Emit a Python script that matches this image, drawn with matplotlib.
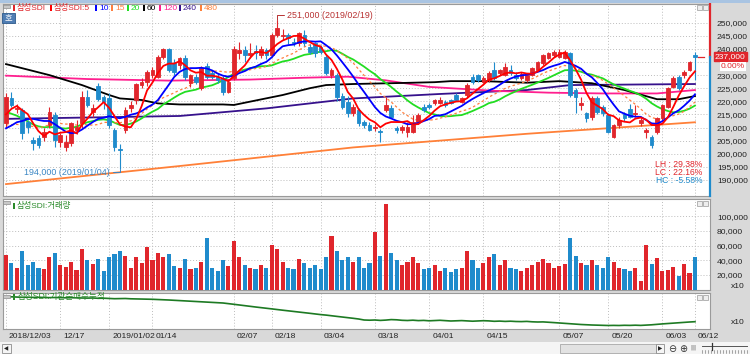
import numpy as np
import pandas as pd
import matplotlib
matplotlib.use("Agg")
import matplotlib.pyplot as plt
from matplotlib import font_manager
from matplotlib.patches import Rectangle
from matplotlib.transforms import blended_transform_factory, offset_copy

W, H = 750, 354

# x axis: one slot per trading day, 2018/12/03 .. 2019/06/12
tick_idx = [0, 10, 19, 27, 42, 49, 58, 68, 78, 88, 102, 111, 121, 127]
tick_lab = ['2018/12/03', '12/17', '2019/01/02', '01/14', '02/07', '02/18', '03/04',
            '03/18', '04/01', '04/15', '05/07', '05/20', '06/03', '06/12']

# daily candles, in 1,000 won
open_k = [
    211.6, 221.1, 217.0, 216.7, 212.2, 205.2, 205.9, 206.5, 211.0, 214.8,
    204.6, 202.7, 204.0, 209.0, 211.6, 221.8, 216.0, 225.8, 221.5, 221.1,
    209.0, 201.8, 209.0, 217.5, 220.5, 226.2, 227.5, 230.0, 229.4, 237.0,
    239.8, 234.5, 233.9, 236.4, 226.9, 229.4, 225.0, 233.5, 230.7, 229.4,
    228.8, 223.7, 228.8, 238.3, 239.6, 237.7, 239.2, 237.7, 239.6, 237.7,
    245.3, 245.0, 245.3, 242.8, 242.1, 245.3, 240.9, 242.1, 240.9, 237.0,
    230.0, 230.0, 222.0, 219.9, 215.4, 216.7, 212.2, 211.0, 209.9, 208.8,
    216.7, 217.3, 209.7, 209.1, 208.4, 208.4, 212.2, 218.0, 218.6, 219.2,
    219.5, 219.9, 220.5, 222.4, 219.9, 222.4, 229.4, 230.0, 227.5, 228.1,
    232.0, 230.7, 230.0, 232.0, 230.0, 228.8, 228.0, 230.0, 232.0, 234.5,
    236.4, 237.7, 237.0, 236.5, 238.3, 224.4, 218.6, 215.4, 214.0, 221.1,
    218.0, 214.8, 206.5, 210.8, 215.0, 217.0, 215.0, 211.6, 208.4, 206.5,
    208.4, 213.5, 218.0, 225.6, 229.4, 230.0, 232.0, 237.5]
high_k = [
    223.0, 223.7, 219.0, 217.5, 213.0, 206.5, 207.0, 209.7, 218.0, 216.0,
    208.0, 207.0, 212.0, 213.0, 224.0, 224.5, 219.0, 227.0, 222.5, 223.0,
    210.0, 203.7, 218.0, 220.0, 227.0, 229.0, 232.0, 233.0, 237.5, 240.5,
    240.5, 236.0, 237.0, 237.7, 230.5, 230.5, 233.5, 234.5, 232.0, 230.5,
    229.5, 228.5, 241.0, 242.8, 241.0, 242.1, 241.5, 241.0, 240.5, 246.0,
    251.0, 247.5, 246.0, 244.0, 246.5, 247.1, 242.0, 242.8, 241.5, 237.7,
    232.6, 230.7, 223.0, 222.0, 219.0, 217.5, 213.0, 212.0, 211.5, 209.5,
    221.5, 218.5, 210.5, 211.0, 212.2, 214.8, 215.5, 219.0, 219.5, 221.0,
    221.8, 220.5, 221.0, 223.0, 221.5, 227.0, 230.5, 230.5, 229.5, 231.5,
    235.1, 232.5, 234.5, 234.0, 231.0, 231.0, 230.8, 233.0, 235.5, 238.0,
    239.0, 239.6, 239.8, 239.6, 239.0, 225.0, 221.5, 216.0, 222.0, 222.0,
    218.5, 215.5, 211.5, 214.0, 216.0, 219.0, 218.6, 213.5, 210.0, 207.0,
    214.0, 219.0, 225.6, 229.5, 230.0, 232.0, 235.5, 239.0]
low_k = [
    210.0, 218.0, 215.4, 205.5, 208.0, 201.4, 202.0, 205.0, 210.0, 202.7,
    202.5, 201.0, 203.0, 207.7, 210.0, 218.0, 214.0, 220.0, 217.0, 209.7,
    201.0, 194.0, 208.0, 216.0, 219.0, 225.0, 226.0, 229.0, 229.0, 236.0,
    231.0, 230.0, 232.5, 228.1, 225.5, 226.5, 224.5, 228.5, 228.5, 227.0,
    222.5, 223.0, 228.0, 236.0, 235.0, 236.4, 236.0, 236.6, 236.0, 237.0,
    244.5, 243.5, 242.0, 241.0, 241.0, 241.0, 238.0, 237.0, 238.0, 230.0,
    229.0, 220.0, 217.0, 214.0, 214.5, 210.5, 210.0, 208.5, 208.5, 204.6,
    216.0, 213.5, 208.0, 208.0, 206.5, 208.0, 211.5, 216.0, 217.0, 218.5,
    219.0, 218.0, 219.0, 220.0, 219.5, 221.5, 226.5, 227.5, 227.0, 227.5,
    228.0, 230.0, 229.5, 230.0, 228.0, 228.0, 227.5, 229.5, 231.5, 234.0,
    236.0, 237.0, 236.5, 236.0, 221.5, 215.4, 216.7, 212.0, 213.0, 215.0,
    214.5, 207.8, 205.9, 210.0, 212.5, 213.5, 214.0, 210.5, 206.0, 202.0,
    207.5, 213.0, 217.5, 225.0, 224.5, 229.0, 231.5, 228.1]
close_k = [
    221.5, 218.6, 217.5, 207.8, 210.3, 204.0, 203.3, 208.4, 216.0, 205.2,
    207.1, 204.6, 211.6, 210.3, 221.8, 218.6, 217.3, 220.8, 219.9, 211.0,
    202.7, 201.4, 216.7, 218.6, 226.6, 227.5, 231.3, 231.9, 237.0, 239.8,
    232.0, 231.3, 236.4, 229.4, 230.0, 227.5, 232.6, 229.4, 229.4, 228.1,
    223.7, 227.5, 239.8, 239.6, 237.7, 238.3, 238.6, 239.8, 237.7, 245.3,
    247.9, 245.3, 244.0, 242.1, 245.9, 242.1, 239.0, 238.3, 239.0, 230.7,
    232.0, 221.8, 218.0, 215.4, 218.0, 211.6, 211.0, 209.1, 210.3, 208.4,
    218.6, 214.1, 209.1, 210.1, 210.3, 212.2, 214.8, 216.7, 218.0, 220.5,
    220.5, 218.6, 219.5, 220.5, 221.1, 226.2, 227.5, 228.1, 228.8, 230.7,
    228.8, 232.0, 233.0, 230.7, 228.8, 230.5, 230.0, 232.6, 235.1, 237.7,
    238.6, 239.0, 239.0, 239.0, 222.4, 221.8, 219.2, 213.5, 221.1, 216.0,
    215.4, 208.4, 210.8, 213.0, 213.5, 214.0, 215.6, 212.9, 209.0, 203.3,
    213.5, 218.6, 225.0, 228.8, 225.0, 231.3, 235.1, 237.0]
# closes of the 19 sessions before 12/03 (estimated, only feed the short averages)
pre_close = [234, 232, 230, 231, 228, 218, 215, 213, 211, 211,
             208, 205, 203, 203, 203, 208, 212, 216, 217.5]

# long moving averages: (day index, 1,000 won)
ma60_pts = [(0, 234.2), (8, 230.0), (14, 226.2), (19, 222.4), (21, 221.1), (25, 220.5),
            (28, 219.2), (32, 218.8), (40, 218.8), (42, 218.6), (46, 220.3), (51, 222.4),
            (56, 225.0), (59, 226.2), (64, 226.6), (73, 227.0), (79, 227.3), (82, 227.7),
            (88, 227.7), (96, 227.1), (102, 227.7), (108, 226.9), (114, 224.3), (120, 220.8),
            (124, 220.8), (127, 222.0)]
ma120_pts = [(0, 229.8), (15, 228.5), (30, 227.9), (45, 228.3), (55, 229.0), (63, 229.4),
             (70, 228.0), (78, 225.5), (90, 224.0), (100, 223.3), (110, 223.0), (120, 223.0),
             (127, 224.3)]
ma240_pts = [(0, 213.3), (32, 214.4), (48, 217.3), (64, 221.1), (80, 222.8), (96, 224.3),
             (104, 226.2), (127, 226.6)]
ma480_pts = [(0, 188.4), (32, 195.3), (64, 202.4), (96, 207.6), (127, 212.0)]

# volume (chart units, x10 shares)
volume = [
    47000, 36000, 30000, 52000, 33000, 38000, 30000, 28000, 45000, 50000,
    34000, 31000, 38000, 27000, 56000, 40000, 35000, 42000, 26000, 45000,
    48000, 52000, 46000, 30000, 44000, 36000, 58000, 40000, 50000, 45000,
    48000, 32000, 30000, 42000, 28000, 30000, 38000, 70000, 30000, 26000,
    40000, 32000, 66000, 45000, 34000, 30000, 28000, 33000, 30000, 61000,
    55000, 38000, 30000, 28000, 42000, 36000, 30000, 34000, 28000, 45000,
    73000, 52000, 40000, 45000, 38000, 44000, 30000, 36000, 78000, 46000,
    116000, 50000, 40000, 34000, 38000, 44000, 36000, 28000, 30000, 34000,
    26000, 30000, 24000, 28000, 30000, 52000, 40000, 30000, 36000, 44000,
    48000, 34000, 40000, 30000, 28000, 26000, 30000, 34000, 38000, 42000,
    36000, 30000, 32000, 35000, 70000, 46000, 36000, 34000, 40000, 33000,
    30000, 44000, 38000, 30000, 28000, 26000, 30000, 12000, 61000, 35000,
    43000, 25000, 27000, 31000, 19000, 35000, 23000, 45000]

# institutional net buying, cumulative (x10 shares, thousands)
inst_cum = [
    0, 0.2, -0.1, -0.3, -0.2, -0.4, -0.3, -0.5, -0.6, -0.5, -0.7, -0.8, -0.7, -0.9, -1.0,
    -1.1, -1.0, -1.3, -1.2, -1.4, -1.7, -1.6, -1.5, -1.8, -1.9, -2.1, -2.0, -2.3, -2.5, -2.7, -3.0,
    -3.3, -3.6, -4.0, -4.2, -4.5, -4.9, -5.2, -5.4, -5.8, -6.0,
    -6.6, -7.3, -8.0, -8.7, -9.4, -10.0,
    -10.6, -11.3, -11.9, -12.6, -13.2, -13.8, -14.5, -15.0, -15.7, -16.3,
    -17.0, -17.6, -18.1, -18.8, -19.4, -20.0, -20.6, -21.3, -22.0, -23.0,
    -23.2, -23.0, -23.4, -23.1, -22.6, -22.8, -23.3, -23.5, -23.2, -23.6, -23.4, -23.8,
    -23.5, -23.3, -23.7, -24.0, -23.8, -23.6, -23.9, -24.2, -24.0, -23.7, -23.9, -24.3,
    -24.1, -24.4, -24.2, -24.5, -24.6, -24.4, -24.8, -25.0, -24.9, -25.2,
    -25.6, -26.0, -26.3, -26.9, -27.2, -27.5, -27.8, -28.0, -28.2, -28.3, -28.5, -28.4,
    -28.5, -28.3, -28.4, -28.2, -28.4, -28.1,
    -27.8, -27.3, -26.9, -26.5, -26.0, -25.7, -25.3, -25.0, -24.7]

day_change_pct = 0.00   # shown under the price tag

# colours
RED = '#e0262c'
BLUE = '#1f8bcc'
ma_colors = {5: '#ff0000', 10: '#0000ff', 15: '#ff7f3f', 20: '#22dd22',
             60: '#000000', 120: '#ff1f8f', 240: '#36118c', 480: '#ff8038'}
GRID = '#bdbdbd'
EDGE = '#9a9a9a'
NUM_FS = 6.1

# fonts: narrow latin face if there is one, Korean from Noto CJK
names = {f.name for f in font_manager.fontManager.ttflist}
NUM_FONT = next((f for f in ['Liberation Sans Narrow', 'DejaVu Sans Condensed', 'Liberation Sans']
                 if f in names), 'DejaVu Sans')
plt.rcParams['font.family'] = [NUM_FONT, 'Noto Sans CJK KR', 'DejaVu Sans']

op = np.array(open_k) * 1000
hi = np.array(high_k) * 1000
lo = np.array(low_k) * 1000
cl = np.array(close_k) * 1000
n = len(cl)
x = np.arange(n)
up = cl >= op
col = np.where(up, RED, BLUE)

all_close = pd.Series(pre_close + close_k)
ma_short = {p: all_close.rolling(p).mean().to_numpy()[len(pre_close):] * 1000 for p in (5, 10, 15, 20)}

fig = plt.figure(figsize=(W / 100, H / 100), dpi=100)
fig.patch.set_facecolor('#d9d9d9')


def px_axes(x0, y0, x1, y1):
    return fig.add_axes([x0 / W, 1 - y1 / H, (x1 - x0) / W, (y1 - y0) / H])


def fx(v):
    return v / W


def fy(v):
    return 1 - v / H


def box(x0, y0, w, h, **kw):
    fig.add_artist(Rectangle((fx(x0), fy(y0 + h)), w / W, h / H, transform=fig.transFigure, **kw))


# slot i sits at pixel 6 + 5.425*i, plot area runs from pixel 3 to 710
X_LO = (3 - 6) / 5.425
X_HI = (710 - 6) / 5.425


def style(a):
    a.set_facecolor('white')
    a.set_xlim(X_LO, X_HI)
    a.set_xticks(tick_idx)
    a.tick_params(axis='x', length=0, labelbottom=False)
    a.grid(True, color=GRID, ls=(0, (1, 2)), lw=0.7)
    a.set_axisbelow(True)
    for s in a.spines.values():
        s.set_color(EDGE)
        s.set_linewidth(0.8)
    a.yaxis.tick_right()
    a.tick_params(axis='y', length=0, pad=5, labelsize=NUM_FS, labelcolor='#222222')


# ---------------- price panel ----------------
ax = px_axes(3, 4, 710, 196)
style(ax)
ax.set_ylim(183860, 257140)
last = cl[-1]
pt = np.arange(190000, 250001, 5000)
ax.set_yticks(pt)
# the label next to the current price sits under the price tag
ax.set_yticklabels(['' if abs(v - last) < 2500 else f'{v:,}' for v in pt])

for p, pts in [(480, ma480_pts), (240, ma240_pts), (120, ma120_pts), (60, ma60_pts)]:
    i, v = zip(*pts)
    ax.plot(i, np.array(v) * 1000, color=ma_colors[p], lw=1.3, zorder=2)
ax.plot(x, ma_short[20], color=ma_colors[20], lw=1.3, zorder=2)
ax.plot(x, ma_short[15], color=ma_colors[15], lw=0.9, ls=(0, (2, 2)), zorder=2)

ax.vlines(x, lo, hi, colors=col, lw=0.8, zorder=3)
ax.bar(x, np.abs(cl - op), bottom=np.minimum(op, cl), width=0.68, color=col,
       edgecolor=col, lw=0.6, zorder=3)

ax.plot(x, ma_short[10], color=ma_colors[10], lw=1.3, zorder=4)
ax.plot(x, ma_short[5], color=ma_colors[5], lw=1.3, zorder=4)

# period high / low marks
ih, il = int(np.argmax(hi)), int(np.argmin(lo))
ax.annotate(f'{hi[ih]:,.0f} (2019/02/19)', xy=(ih, hi[ih]), xytext=(10, 5), textcoords='offset pixels',
            ha='left', va='center', fontsize=6.4, color='#b83232', zorder=6,
            arrowprops=dict(arrowstyle='-', color='#b83232', lw=0.7, shrinkA=0, shrinkB=0,
                            relpos=(0, 0.5), connectionstyle='angle,angleA=0,angleB=90,rad=0'))
ax.annotate(f'{lo[il]:,.0f} (2019/01/04)', xy=(il, lo[il]), xytext=(-10, -3), textcoords='offset pixels',
            ha='right', va='center', fontsize=6.4, color='#3a86c4', zorder=6,
            arrowprops=dict(arrowstyle='-', color='#3a86c4', lw=0.7, shrinkA=0, shrinkB=0,
                            relpos=(1, 0.5), connectionstyle='angle,angleA=0,angleB=90,rad=0'))

# current price marker
ax.plot([n - 0.4, n + 0.6], [last, last], color=RED, lw=0.9, zorder=5)
ax.spines['right'].set_visible(False)
bt = blended_transform_factory(ax.transAxes, ax.transData)
ax.plot([1, 1], [last, ax.get_ylim()[1]], transform=bt, color=RED, lw=1.6, clip_on=False, zorder=7)
ax.plot([1, 1], [ax.get_ylim()[0], last], transform=bt, color=BLUE, lw=1.6, clip_on=False, zorder=7)
ax.annotate(f'{last:,.0f}', xy=(1, last), xycoords=bt, xytext=(5, 0), textcoords='offset pixels',
            ha='left', va='center', fontsize=NUM_FS, color='white', zorder=8, annotation_clip=False,
            bbox=dict(boxstyle='square,pad=0.12', fc=RED, ec=RED))
ax.annotate(f'{day_change_pct:.2f}%', xy=(1, last), xycoords=bt, xytext=(35, -10), textcoords='offset pixels',
            ha='right', va='center', fontsize=NUM_FS, color=RED, zorder=8, annotation_clip=False,
            bbox=dict(boxstyle='square,pad=0.1', fc='white', ec='none'))

lh = (hi.max() / lo.min() - 1) * 100
lc = (last / lo.min() - 1) * 100
hc = (last / hi.max() - 1) * 100
for k, (txt, c) in enumerate([(f'LH : {lh:.2f}%', RED), (f'LC : {lc:.2f}%', RED), (f'HC : {hc:.2f}%', BLUE)]):
    ax.text(0.9887, 0.163 - k * 0.042, txt, transform=ax.transAxes, ha='right', va='center',
            fontsize=6.2, color=c, zorder=8)

# ---------------- volume panel ----------------
axv = px_axes(3, 199, 710, 290)
style(axv)
axv.set_ylim(-400, 123400)
vt = np.arange(20000, 100001, 20000)
axv.set_yticks(vt)
axv.set_yticklabels([f'{v:,}' for v in vt])
axv.bar(x, volume, width=0.76, color=col, lw=0, zorder=3)

# ---------------- institutional panel ----------------
axi = px_axes(3, 293, 710, 329)
style(axi)
axi.set_ylim(-32, 4)
axi.set_yticks([])
axi.plot(x, inst_cum, color='#1d7a23', lw=1.2, zorder=3)

# ---------------- date row ----------------
dt = offset_copy(blended_transform_factory(ax.transData, fig.transFigure), fig=fig, x=3, y=0, units='dots')
for i, lab in zip(tick_idx, tick_lab):
    fig.text(i, fy(336), lab, transform=dt, ha='left', va='center', fontsize=NUM_FS, color='#222222')

fig.text(fx(745), fy(287), 'x10', ha='right', va='center', fontsize=NUM_FS, color='#222222')
fig.text(fx(745), fy(322), 'x10', ha='right', va='center', fontsize=NUM_FS, color='#222222')

# ---------------- titles / legend ----------------
leg = [('삼성SDI', RED, RED, 13), ('삼성SDI:5', ma_colors[5], RED, 50)]
for p, xp in zip([10, 15, 20, 60, 120, 240, 480], [95, 111, 127, 143, 159, 179, 200]):
    leg.append((str(p), ma_colors[p], ma_colors[p], xp))
for txt, sq, tc, xp in leg:
    box(xp, 5, 2, 6, color=sq, lw=0)
    fig.text(fx(xp + 4), fy(8), txt, ha='left', va='center', fontsize=6, color=tc)

fig.text(fx(17), fy(206), '삼성SDI:거래량', ha='left', va='center', fontsize=6, color='#2a8a2a')
box(13, 203, 2, 6, color='#2a8a2a', lw=0)
fig.text(fx(18), fy(297), '삼성SDI:기관순매수누적', ha='left', va='center', fontsize=6.2, color='#2a8a2a')
box(13, 294, 2, 6, color='#2a8a2a', lw=0)

# small panel icons
for yy in (5, 201, 295):
    box(3, yy, 7, 3, fc='#c8c8c8', ec='#8c8c8c', lw=0.5)
    box(697, yy, 5, 5, fc='#eeeeee', ec='#9a9a9a', lw=0.5)
    box(703, yy, 5, 5, fc='#eeeeee', ec='#9a9a9a', lw=0.5)

box(2, 13, 13, 10, fc='#4f7db3', ec='#2d5a8c', lw=0.6)
fig.text(fx(8.5), fy(18), '호', ha='center', va='center', fontsize=6, color='white',
         family=['Noto Sans CJK KR', 'DejaVu Sans'])

# top strip and bottom scroll bar
box(0, 0, 750, 2.5, fc='#a9c4e2', lw=0)
box(0, 342, 750, 12, fc='#f5f5f5', lw=0)
box(2, 344, 9, 9, fc='#f5f5f5', ec='#8c8c8c', lw=0.6)
fig.text(fx(6.5), fy(348.5), '◀', ha='center', va='center', fontsize=4, color='#222222', family='DejaVu Sans')
box(560, 344, 96, 9, fc='#e2e2e2', ec='#a8a8a8', lw=0.6)
box(656, 344, 8, 9, fc='#f5f5f5', ec='#8c8c8c', lw=0.6)
fig.text(fx(660), fy(348.5), '▶', ha='center', va='center', fontsize=4, color='#222222', family='DejaVu Sans')
fig.text(fx(672), fy(348.5), '⊖', ha='center', va='center', fontsize=7, color='#333333', family='DejaVu Sans')
fig.text(fx(683), fy(348.5), '⊕', ha='center', va='center', fontsize=7, color='#333333', family='DejaVu Sans')
fig.text(fx(693), fy(347), '|||', ha='center', va='center', fontsize=4, color='#333333', family='DejaVu Sans')
fig.add_artist(plt.Line2D([fx(702), fx(747)], [fy(346), fy(346)], color='#555555', lw=0.7))
fig.add_artist(plt.Line2D([fx(712), fx(712)], [fy(343), fy(350)], color='#333333', lw=0.9))
for t in np.arange(702, 748, 3):
    fig.add_artist(plt.Line2D([fx(t), fx(t)], [fy(350), fy(353)], color='#666666', lw=0.4))

fig.savefig('out.png', dpi=100, facecolor=fig.get_facecolor())
